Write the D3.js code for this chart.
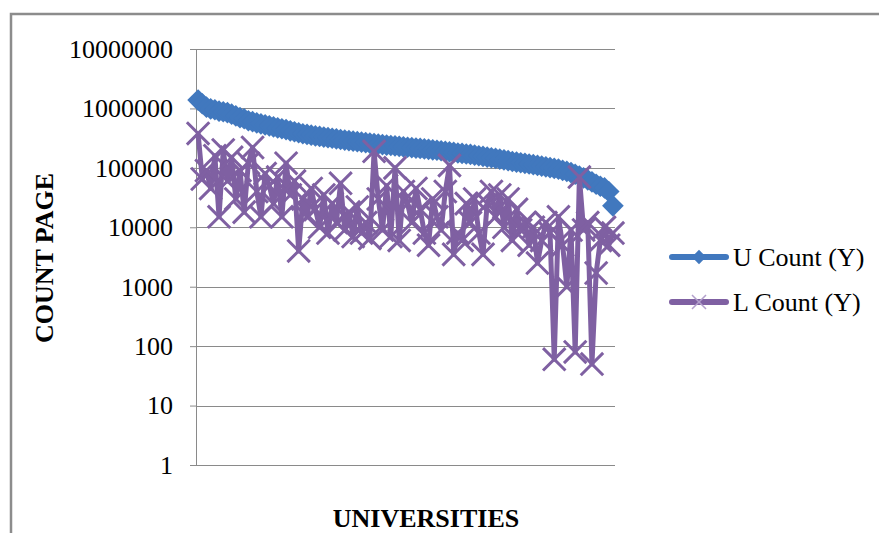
<!DOCTYPE html>
<html lang="en">
<head>
    <meta charset="UTF-8">
    <title>U Count / L Count by university</title>
    <script src="https://cdn.jsdelivr.net/npm/d3@7"></script>
    <style>
        body { margin: 0; background: #fff; }
        svg { display: block; }
        text { font-family: "Liberation Serif", "Times New Roman", serif; fill: #000; }
        .tick text { font-size: 26px; }
        .axis-title { font-size: 26px; font-weight: bold; }
        .legend text { font-size: 26px; }
    </style>
</head>
<body>
<script>
    // one entry per university (x axis carries no labels)
    const universities = d3.range(1, 101);

    const uCount = [
        1380000, 1200000, 1050000, 980000, 950000, 900000, 880000, 850000, 800000, 750000,
        700000, 670000, 620000, 600000, 570000, 550000, 530000, 510000, 490000, 470000,
        455000, 440000, 420000, 405000, 390000, 375000, 365000, 355000, 345000, 338000,
        330000, 322000, 315000, 308000, 300000, 293000, 287000, 281000, 276000, 270000,
        265000, 260000, 255000, 250000, 246000, 242000, 238000, 234000, 230000, 226000,
        222000, 219000, 215000, 212000, 208000, 205000, 201000, 198000, 194000, 190000,
        186000, 182000, 178000, 175000, 171000, 168000, 164000, 160000, 156000, 152000,
        148000, 144000, 140000, 136000, 132000, 128000, 125000, 122000, 119000, 116000,
        113000, 110000, 107000, 104000, 101000, 98000, 95000, 91000, 87000, 83000,
        78000, 73000, 68000, 63000, 58000, 53000, 49000, 46000, 40000, 23000
    ];

    const lCount = [
        380000, 65000, 90000, 45000, 160000, 15000, 200000, 60000, 150000, 30000,
        90000, 18000, 120000, 220000, 40000, 15000, 80000, 50000, 25000, 70000,
        15000, 120000, 35000, 60000, 4000, 30000, 15000, 45000, 20000, 10000,
        35000, 8000, 25000, 12000, 55000, 9000, 18000, 7000, 22000, 8000,
        12000, 6500, 190000, 30000, 9000, 50000, 7000, 100000, 6000, 40000,
        25000, 12000, 45000, 20000, 8000, 5000, 30000, 15000, 9000, 40000,
        110000, 3500, 8000, 6000, 25000, 12000, 30000, 8000, 3500, 25000,
        40000, 15000, 35000, 10000, 30000, 6000, 20000, 9000, 12000, 5000,
        10000, 2500, 6000, 12000, 8000, 60, 15000, 5000, 1000, 9000,
        80, 70000, 9000, 12000, 50, 1700, 6000, 10000, 5000, 8000
    ];

    const yTicks = [1, 10, 100, 1000, 10000, 100000, 1000000, 10000000];
    const seriesNames = ["U Count (Y)", "L Count (Y)"];

    const W = 879, H = 533;
    const plot = { left: 196, right: 615, top: 49, bottom: 465 };
    const blue = "#4178be", purple = "#7f60a2";

    const svg = d3.select("body").append("svg")
        .attr("width", W)
        .attr("height", H);

    // outer chart frame (runs off the right and bottom of the picture)
    svg.append("rect")
        .attr("x", 11).attr("y", 14)
        .attr("width", W + 20).attr("height", H + 20)
        .attr("fill", "none")
        .attr("stroke", "#8c8c8c")
        .attr("stroke-width", 2.5);

    const x = d3.scalePoint()
        .domain(universities)
        .range([plot.left, plot.right])
        .padding(0.5);

    const y = d3.scaleLog()
        .domain([1, 10000000])
        .range([plot.bottom, plot.top]);

    // gridlines
    svg.append("g")
        .selectAll("line")
        .data(yTicks)
        .join("line")
        .attr("x1", plot.left).attr("x2", plot.right)
        .attr("y1", d => Math.round(y(d)) + 0.5)
        .attr("y2", d => Math.round(y(d)) + 0.5)
        .attr("stroke", "#8a8a8a")
        .attr("stroke-width", 1);

    const yAxis = d3.axisLeft(y)
        .tickValues(yTicks)
        .tickFormat(d3.format("d"))
        .tickSize(6)
        .tickPadding(17);

    const gy = svg.append("g")
        .attr("transform", `translate(${plot.left},0)`)
        .call(yAxis);
    gy.attr("font-size", null).attr("font-family", null);
    gy.select(".domain").attr("stroke", "#8a8a8a");
    gy.selectAll(".tick line").attr("stroke", "#8a8a8a");

    // axis titles
    svg.append("text")
        .attr("class", "axis-title")
        .attr("x", 426).attr("y", 527)
        .attr("text-anchor", "middle")
        .text("UNIVERSITIES");

    svg.append("text")
        .attr("class", "axis-title")
        .attr("transform", "translate(53,258) rotate(-90)")
        .attr("text-anchor", "middle")
        .text("COUNT PAGE");

    const line = d3.line()
        .x((d, i) => x(universities[i]))
        .y(d => y(d));

    // U Count: thick blue line with diamonds
    svg.append("path")
        .datum(uCount)
        .attr("d", line)
        .attr("fill", "none")
        .attr("stroke", blue)
        .attr("stroke-width", 7)
        .attr("stroke-linejoin", "round");

    svg.append("g")
        .selectAll("path")
        .data(uCount)
        .join("path")
        .attr("transform", (d, i) => `translate(${x(universities[i])},${y(d)})`)
        .attr("d", d3.symbol().type(d3.symbolDiamond2).size(300))
        .attr("fill", blue);

    // L Count: purple line with x markers
    svg.append("path")
        .datum(lCount)
        .attr("d", line)
        .attr("fill", "none")
        .attr("stroke", purple)
        .attr("stroke-width", 5)
        .attr("stroke-linejoin", "round");

    svg.append("g")
        .selectAll("path")
        .data(lCount)
        .join("path")
        .attr("transform", (d, i) => `translate(${x(universities[i])},${y(d)})`)
        .attr("d", d3.symbol().type(d3.symbolX).size(330))
        .attr("fill", "none")
        .attr("stroke", purple)
        .attr("stroke-width", 3);

    // legend
    const legend = svg.append("g").attr("class", "legend");
    const rows = legend.selectAll("g")
        .data(seriesNames)
        .join("g")
        .attr("transform", (d, i) => `translate(672,${257 + i * 45})`);

    rows.append("line")
        .attr("x1", 0).attr("x2", 54)
        .attr("stroke", (d, i) => i === 0 ? blue : purple)
        .attr("stroke-width", 6)
        .attr("stroke-linecap", "round");

    rows.filter((d, i) => i === 0).append("path")
        .attr("transform", "translate(27,0)")
        .attr("d", d3.symbol().type(d3.symbolDiamond2).size(130))
        .attr("fill", blue);

    rows.filter((d, i) => i === 1).append("path")
        .attr("transform", "translate(27,0)")
        .attr("d", d3.symbol().type(d3.symbolX).size(130))
        .attr("fill", "none")
        .attr("stroke", "#b3a0cc")
        .attr("stroke-width", 1.5);

    rows.append("text")
        .attr("x", 61)
        .attr("y", 0)
        .attr("dy", "0.35em")
        .text(d => d);
</script>
</body>
</html>
